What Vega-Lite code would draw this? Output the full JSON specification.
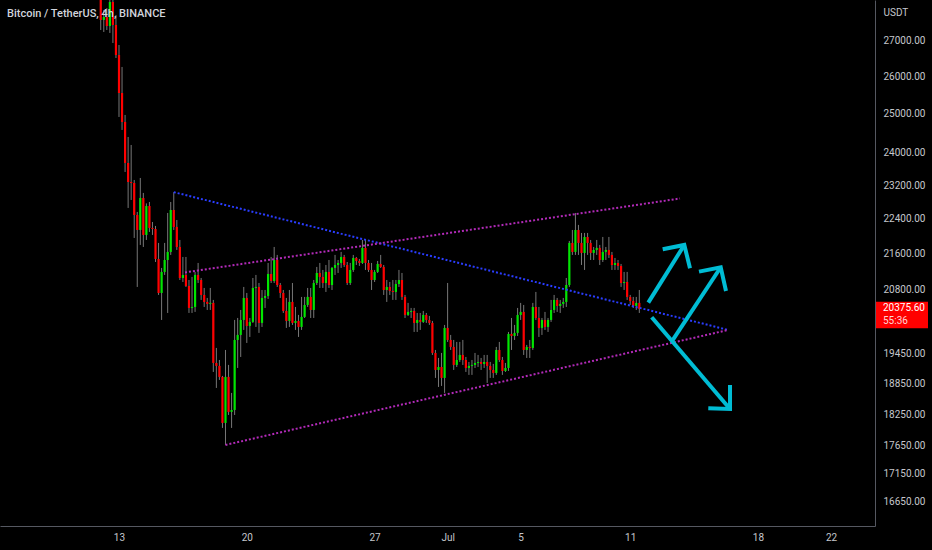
{
  "$schema": "https://vega.github.io/schema/vega-lite/v6.json",
  "width": 875,
  "height": 526,
  "autosize": "none",
  "padding": {"left": 0, "top": 0, "right": 57, "bottom": 24},
  "background": "#000000",
  "title": {"text": "Bitcoin / TetherUS, 4h, BINANCE", "anchor": "start", "frame": "group", "offset": -19, "dx": 7, "font": "Roboto", "fontSize": 11, "fontWeight": 500, "color": "#d1d4dc"},
  "config": {"view": {"stroke": null, "fill": "#000000"}},
  "datasets": {
    "candles": [
      {"t":"2022-06-12T00:00","o":28409,"h":28618,"l":27299,"c":27587},
      {"t":"2022-06-12T04:00","o":27587,"h":27877,"l":27242,"c":27674},
      {"t":"2022-06-12T08:00","o":27674,"h":27936,"l":27299,"c":27414},
      {"t":"2022-06-12T12:00","o":27414,"h":28260,"l":27214,"c":28112},
      {"t":"2022-06-12T16:00","o":28112,"h":28320,"l":26929,"c":27443},
      {"t":"2022-06-12T20:00","o":27443,"h":27732,"l":26509,"c":26593},
      {"t":"2022-06-13T00:00","o":26593,"h":26873,"l":24919,"c":25554},
      {"t":"2022-06-13T04:00","o":25554,"h":26261,"l":24582,"c":24789},
      {"t":"2022-06-13T08:00","o":24789,"h":24972,"l":23523,"c":23746},
      {"t":"2022-06-13T12:00","o":23746,"h":24402,"l":22652,"c":23277},
      {"t":"2022-06-13T16:00","o":23277,"h":24198,"l":22842,"c":23253},
      {"t":"2022-06-13T20:00","o":23253,"h":23326,"l":21950,"c":22486},
      {"t":"2022-06-14T00:00","o":22486,"h":22557,"l":20851,"c":22135},
      {"t":"2022-06-14T04:00","o":22135,"h":23375,"l":21790,"c":22890},
      {"t":"2022-06-14T08:00","o":22890,"h":23011,"l":21744,"c":22020},
      {"t":"2022-06-14T12:00","o":22020,"h":22760,"l":21904,"c":22699},
      {"t":"2022-06-14T16:00","o":22699,"h":22794,"l":22089,"c":22182},
      {"t":"2022-06-14T20:00","o":22182,"h":22321,"l":22020,"c":22158},
      {"t":"2022-06-15T00:00","o":22158,"h":22228,"l":21404,"c":21472},
      {"t":"2022-06-15T04:00","o":21472,"h":21836,"l":20677,"c":20720},
      {"t":"2022-06-15T08:00","o":20720,"h":21271,"l":20142,"c":21182},
      {"t":"2022-06-15T12:00","o":21182,"h":21836,"l":21115,"c":21449},
      {"t":"2022-06-15T16:00","o":21449,"h":22533,"l":20290,"c":21631},
      {"t":"2022-06-15T20:00","o":21631,"h":22794,"l":21563,"c":22604},
      {"t":"2022-06-16T00:00","o":22604,"h":23030,"l":22135,"c":22205},
      {"t":"2022-06-16T04:00","o":22205,"h":22368,"l":21676,"c":21744},
      {"t":"2022-06-16T08:00","o":21744,"h":21904,"l":21004,"c":21048},
      {"t":"2022-06-16T12:00","o":21048,"h":21517,"l":20960,"c":21115},
      {"t":"2022-06-16T16:00","o":21115,"h":21517,"l":20851,"c":20873},
      {"t":"2022-06-16T20:00","o":20873,"h":21004,"l":20290,"c":20397},
      {"t":"2022-06-17T00:00","o":20397,"h":21071,"l":20290,"c":20418},
      {"t":"2022-06-17T04:00","o":20418,"h":21182,"l":20312,"c":21115},
      {"t":"2022-06-17T08:00","o":21115,"h":21382,"l":20938,"c":21004},
      {"t":"2022-06-17T12:00","o":21004,"h":21048,"l":20569,"c":20677},
      {"t":"2022-06-17T16:00","o":20677,"h":20829,"l":20418,"c":20526},
      {"t":"2022-06-17T20:00","o":20526,"h":20612,"l":20354,"c":20483},
      {"t":"2022-06-18T00:00","o":20483,"h":20829,"l":20354,"c":20505},
      {"t":"2022-06-18T04:00","o":20505,"h":20569,"l":19073,"c":19254},
      {"t":"2022-06-18T08:00","o":19254,"h":19559,"l":18756,"c":19194},
      {"t":"2022-06-18T12:00","o":19194,"h":19314,"l":18914,"c":18974},
      {"t":"2022-06-18T16:00","o":18974,"h":18994,"l":17986,"c":18080},
      {"t":"2022-06-18T20:00","o":18080,"h":19518,"l":17668,"c":18974},
      {"t":"2022-06-19T00:00","o":18974,"h":19214,"l":18232,"c":18290},
      {"t":"2022-06-19T04:00","o":18290,"h":18658,"l":17986,"c":18328},
      {"t":"2022-06-19T08:00","o":18328,"h":20142,"l":18232,"c":19724},
      {"t":"2022-06-19T12:00","o":19724,"h":20184,"l":19153,"c":19828},
      {"t":"2022-06-19T16:00","o":19828,"h":20354,"l":19375,"c":20142},
      {"t":"2022-06-19T20:00","o":20142,"h":20851,"l":19932,"c":20612},
      {"t":"2022-06-20T00:00","o":20612,"h":20720,"l":19662,"c":20016},
      {"t":"2022-06-20T04:00","o":20016,"h":20184,"l":19786,"c":20100},
      {"t":"2022-06-20T08:00","o":20100,"h":21048,"l":20079,"c":20829},
      {"t":"2022-06-20T12:00","o":20829,"h":21115,"l":19995,"c":20851},
      {"t":"2022-06-20T16:00","o":20851,"h":20938,"l":19870,"c":20079},
      {"t":"2022-06-20T20:00","o":20079,"h":20785,"l":19995,"c":20612},
      {"t":"2022-06-21T00:00","o":20612,"h":20785,"l":20397,"c":20655},
      {"t":"2022-06-21T04:00","o":20655,"h":21382,"l":20590,"c":21137},
      {"t":"2022-06-21T08:00","o":21137,"h":21517,"l":20938,"c":20982},
      {"t":"2022-06-21T12:00","o":20982,"h":21744,"l":20938,"c":21449},
      {"t":"2022-06-21T16:00","o":21449,"h":21563,"l":20851,"c":20894},
      {"t":"2022-06-21T20:00","o":20894,"h":20938,"l":20612,"c":20720},
      {"t":"2022-06-22T00:00","o":20720,"h":20785,"l":20290,"c":20333},
      {"t":"2022-06-22T04:00","o":20333,"h":20612,"l":19974,"c":20121},
      {"t":"2022-06-22T08:00","o":20121,"h":20785,"l":19995,"c":20526},
      {"t":"2022-06-22T12:00","o":20526,"h":20938,"l":20037,"c":20079},
      {"t":"2022-06-22T16:00","o":20079,"h":20418,"l":19932,"c":20121},
      {"t":"2022-06-22T20:00","o":20121,"h":20248,"l":19786,"c":19995},
      {"t":"2022-06-23T00:00","o":19995,"h":20634,"l":19932,"c":20206},
      {"t":"2022-06-23T04:00","o":20206,"h":20634,"l":20184,"c":20461},
      {"t":"2022-06-23T08:00","o":20461,"h":20829,"l":20418,"c":20634},
      {"t":"2022-06-23T12:00","o":20634,"h":20829,"l":20184,"c":20354},
      {"t":"2022-06-23T16:00","o":20354,"h":21004,"l":20184,"c":20938},
      {"t":"2022-06-23T20:00","o":20938,"h":21293,"l":20894,"c":21159},
      {"t":"2022-06-24T00:00","o":21159,"h":21382,"l":20829,"c":21071},
      {"t":"2022-06-24T04:00","o":21071,"h":21226,"l":20829,"c":20938},
      {"t":"2022-06-24T08:00","o":20938,"h":21337,"l":20742,"c":21182},
      {"t":"2022-06-24T12:00","o":21182,"h":21449,"l":20829,"c":20894},
      {"t":"2022-06-24T16:00","o":20894,"h":21293,"l":20785,"c":21271},
      {"t":"2022-06-24T20:00","o":21271,"h":21563,"l":21115,"c":21337},
      {"t":"2022-06-25T00:00","o":21337,"h":21449,"l":21159,"c":21382},
      {"t":"2022-06-25T04:00","o":21382,"h":21631,"l":21271,"c":21517},
      {"t":"2022-06-25T08:00","o":21517,"h":21563,"l":21293,"c":21337},
      {"t":"2022-06-25T12:00","o":21337,"h":21404,"l":20894,"c":20938},
      {"t":"2022-06-25T16:00","o":20938,"h":21382,"l":20894,"c":21226},
      {"t":"2022-06-25T20:00","o":21226,"h":21563,"l":21182,"c":21495},
      {"t":"2022-06-26T00:00","o":21495,"h":21517,"l":21337,"c":21427},
      {"t":"2022-06-26T04:00","o":21427,"h":21472,"l":21315,"c":21382},
      {"t":"2022-06-26T08:00","o":21382,"h":21904,"l":21360,"c":21722},
      {"t":"2022-06-26T12:00","o":21722,"h":21904,"l":21226,"c":21382},
      {"t":"2022-06-26T16:00","o":21382,"h":21449,"l":21182,"c":21226},
      {"t":"2022-06-26T20:00","o":21226,"h":21382,"l":20785,"c":21004},
      {"t":"2022-06-27T00:00","o":21004,"h":21226,"l":20960,"c":21182},
      {"t":"2022-06-27T04:00","o":21182,"h":21427,"l":21159,"c":21360},
      {"t":"2022-06-27T08:00","o":21360,"h":21563,"l":21271,"c":21293},
      {"t":"2022-06-27T12:00","o":21293,"h":21337,"l":20677,"c":20785},
      {"t":"2022-06-27T16:00","o":20785,"h":21004,"l":20526,"c":20851},
      {"t":"2022-06-27T20:00","o":20851,"h":20960,"l":20677,"c":20764},
      {"t":"2022-06-28T00:00","o":20764,"h":21004,"l":20569,"c":20742},
      {"t":"2022-06-28T04:00","o":20742,"h":21004,"l":20569,"c":20916},
      {"t":"2022-06-28T08:00","o":20916,"h":21226,"l":20851,"c":21004},
      {"t":"2022-06-28T12:00","o":21004,"h":21159,"l":20569,"c":20634},
      {"t":"2022-06-28T16:00","o":20634,"h":20677,"l":20184,"c":20248},
      {"t":"2022-06-28T20:00","o":20248,"h":20505,"l":20227,"c":20312},
      {"t":"2022-06-29T00:00","o":20312,"h":20397,"l":20184,"c":20333},
      {"t":"2022-06-29T04:00","o":20333,"h":20397,"l":19890,"c":20079},
      {"t":"2022-06-29T08:00","o":20079,"h":20290,"l":19890,"c":20142},
      {"t":"2022-06-29T12:00","o":20142,"h":20290,"l":19932,"c":20100},
      {"t":"2022-06-29T16:00","o":20100,"h":20333,"l":20079,"c":20248},
      {"t":"2022-06-29T20:00","o":20248,"h":20290,"l":20079,"c":20142},
      {"t":"2022-06-30T00:00","o":20142,"h":20227,"l":20037,"c":20079},
      {"t":"2022-06-30T04:00","o":20079,"h":20121,"l":19416,"c":19457},
      {"t":"2022-06-30T08:00","o":19457,"h":19518,"l":18954,"c":19113},
      {"t":"2022-06-30T12:00","o":19113,"h":19355,"l":18775,"c":19173},
      {"t":"2022-06-30T16:00","o":19173,"h":19457,"l":18795,"c":18954},
      {"t":"2022-06-30T20:00","o":18954,"h":20037,"l":18658,"c":19974},
      {"t":"2022-07-01T00:00","o":19974,"h":20938,"l":19683,"c":19724},
      {"t":"2022-07-01T04:00","o":19724,"h":19828,"l":19518,"c":19580},
      {"t":"2022-07-01T08:00","o":19580,"h":19724,"l":19113,"c":19214},
      {"t":"2022-07-01T12:00","o":19214,"h":19683,"l":19173,"c":19314},
      {"t":"2022-07-01T16:00","o":19314,"h":19683,"l":19274,"c":19416},
      {"t":"2022-07-01T20:00","o":19416,"h":19724,"l":19214,"c":19314},
      {"t":"2022-07-02T00:00","o":19314,"h":19375,"l":19073,"c":19153},
      {"t":"2022-07-02T04:00","o":19153,"h":19274,"l":19014,"c":19194},
      {"t":"2022-07-02T08:00","o":19194,"h":19314,"l":19014,"c":19214},
      {"t":"2022-07-02T12:00","o":19214,"h":19457,"l":19153,"c":19254},
      {"t":"2022-07-02T16:00","o":19254,"h":19416,"l":19173,"c":19274},
      {"t":"2022-07-02T20:00","o":19274,"h":19355,"l":19113,"c":19234},
      {"t":"2022-07-03T00:00","o":19234,"h":19416,"l":19153,"c":19274},
      {"t":"2022-07-03T04:00","o":19274,"h":19416,"l":18855,"c":19194},
      {"t":"2022-07-03T08:00","o":19194,"h":19274,"l":18954,"c":19113},
      {"t":"2022-07-03T12:00","o":19113,"h":19234,"l":18954,"c":19053},
      {"t":"2022-07-03T16:00","o":19053,"h":19580,"l":19014,"c":19518},
      {"t":"2022-07-03T20:00","o":19518,"h":19683,"l":19274,"c":19314},
      {"t":"2022-07-04T00:00","o":19314,"h":19375,"l":19014,"c":19093},
      {"t":"2022-07-04T04:00","o":19093,"h":19254,"l":19073,"c":19153},
      {"t":"2022-07-04T08:00","o":19153,"h":19890,"l":19093,"c":19849},
      {"t":"2022-07-04T12:00","o":19849,"h":20184,"l":19518,"c":19807},
      {"t":"2022-07-04T16:00","o":19807,"h":20037,"l":19724,"c":19870},
      {"t":"2022-07-04T20:00","o":19870,"h":20397,"l":19807,"c":20248},
      {"t":"2022-07-05T00:00","o":20248,"h":20505,"l":20142,"c":20312},
      {"t":"2022-07-05T04:00","o":20312,"h":20461,"l":19416,"c":19518},
      {"t":"2022-07-05T08:00","o":19518,"h":19621,"l":19355,"c":19580},
      {"t":"2022-07-05T12:00","o":19580,"h":19724,"l":19355,"c":19559},
      {"t":"2022-07-05T16:00","o":19559,"h":20505,"l":19518,"c":20418},
      {"t":"2022-07-05T20:00","o":20418,"h":20742,"l":20142,"c":20184},
      {"t":"2022-07-06T00:00","o":20184,"h":20418,"l":19786,"c":19974},
      {"t":"2022-07-06T04:00","o":19974,"h":20184,"l":19828,"c":20142},
      {"t":"2022-07-06T08:00","o":20142,"h":20312,"l":19932,"c":19995},
      {"t":"2022-07-06T12:00","o":19995,"h":20184,"l":19890,"c":20142},
      {"t":"2022-07-06T16:00","o":20142,"h":20569,"l":20100,"c":20354},
      {"t":"2022-07-06T20:00","o":20354,"h":20677,"l":20290,"c":20569},
      {"t":"2022-07-07T00:00","o":20569,"h":20612,"l":20312,"c":20440},
      {"t":"2022-07-07T04:00","o":20440,"h":20569,"l":20290,"c":20483},
      {"t":"2022-07-07T08:00","o":20483,"h":20612,"l":20397,"c":20526},
      {"t":"2022-07-07T12:00","o":20526,"h":21048,"l":20418,"c":20894},
      {"t":"2022-07-07T16:00","o":20894,"h":21881,"l":20851,"c":21836},
      {"t":"2022-07-07T20:00","o":21836,"h":22135,"l":21563,"c":21631},
      {"t":"2022-07-08T00:00","o":21631,"h":22533,"l":21563,"c":22135},
      {"t":"2022-07-08T04:00","o":22135,"h":22252,"l":21563,"c":21836},
      {"t":"2022-07-08T08:00","o":21836,"h":22066,"l":21337,"c":21608},
      {"t":"2022-07-08T12:00","o":21608,"h":22066,"l":21226,"c":21973},
      {"t":"2022-07-08T16:00","o":21973,"h":22066,"l":21563,"c":21836},
      {"t":"2022-07-08T20:00","o":21836,"h":21904,"l":21449,"c":21608},
      {"t":"2022-07-09T00:00","o":21608,"h":21744,"l":21449,"c":21676},
      {"t":"2022-07-09T04:00","o":21676,"h":21904,"l":21563,"c":21722},
      {"t":"2022-07-09T08:00","o":21722,"h":21790,"l":21337,"c":21449},
      {"t":"2022-07-09T12:00","o":21449,"h":21973,"l":21404,"c":21631},
      {"t":"2022-07-09T16:00","o":21631,"h":21744,"l":21449,"c":21676},
      {"t":"2022-07-09T20:00","o":21676,"h":21973,"l":21495,"c":21563},
      {"t":"2022-07-10T00:00","o":21563,"h":21631,"l":21226,"c":21337},
      {"t":"2022-07-10T04:00","o":21337,"h":21495,"l":21226,"c":21382},
      {"t":"2022-07-10T08:00","o":21382,"h":21449,"l":21226,"c":21315},
      {"t":"2022-07-10T12:00","o":21315,"h":21360,"l":20851,"c":20938},
      {"t":"2022-07-10T16:00","o":20938,"h":21182,"l":20785,"c":20960},
      {"t":"2022-07-10T20:00","o":20960,"h":21182,"l":20569,"c":20634},
      {"t":"2022-07-11T00:00","o":20634,"h":20677,"l":20461,"c":20547},
      {"t":"2022-07-11T04:00","o":20547,"h":20634,"l":20397,"c":20440},
      {"t":"2022-07-11T08:00","o":20440,"h":20634,"l":20354,"c":20505},
      {"t":"2022-07-11T12:00","o":20505,"h":20785,"l":20290,"c":20375.6}
    ],
    "lines": [
      {"g":"blue","k":0,"t":"2022-06-16T00:00","p":23030},
      {"g":"blue","k":1,"t":"2022-07-16T08:58","p":19932},
      {"g":"upper","k":0,"t":"2022-06-16T14:46","p":21171},
      {"g":"upper","k":1,"t":"2022-07-13T17:28","p":22878},
      {"g":"lower","k":0,"t":"2022-06-18T20:00","p":17668},
      {"g":"lower","k":1,"t":"2022-07-16T08:58","p":19932}
    ],
    "arrows": [
      {"g":"a1s","k":0,"t":"2022-07-11T23:48","p":20511},
      {"g":"a1s","k":1,"t":"2022-07-13T23:08","p":21790},
      {"g":"a1h","k":0,"t":"2022-07-12T18:43","p":21692},
      {"g":"a1h","k":1,"t":"2022-07-13T23:08","p":21790},
      {"g":"a1h","k":2,"t":"2022-07-14T06:38","p":21264},
      {"g":"a2s","k":0,"t":"2022-07-13T06:33","p":19689},
      {"g":"a2s","k":1,"t":"2022-07-15T23:00","p":21286},
      {"g":"a2h","k":0,"t":"2022-07-14T18:27","p":21188},
      {"g":"a2h","k":1,"t":"2022-07-15T23:00","p":21286},
      {"g":"a2h","k":2,"t":"2022-07-16T05:57","p":20763},
      {"g":"a3s","k":0,"t":"2022-07-12T04:16","p":20199},
      {"g":"a3s","k":1,"t":"2022-07-16T11:13","p":18347},
      {"g":"a3h","k":0,"t":"2022-07-15T06:40","p":18361},
      {"g":"a3h","k":1,"t":"2022-07-16T11:13","p":18347},
      {"g":"a3h","k":2,"t":"2022-07-16T11:13","p":18815}
    ],
    "tag": [
      {"price":20375.6,"hi":20532,"lo":19968,"label":"20375.60","countdown":"55:36"}
    ]
  },
  "layer": [
    {
      "data": {"name": "candles"},
      "mark": {"type": "rule", "color": "#777777", "strokeWidth": 1, "clip": true},
      "encoding": {
        "x": {"field": "t", "type": "temporal",
          "scale": {"domain": ["2022-06-06T11:34:00", "2022-07-24T09:49:00"], "nice": false},
          "axis": {"orient": "bottom", "grid": false, "ticks": false, "domainColor": "#555861", "labelColor": "#c5c7cc", "labelFont": "Roboto", "labelFontSize": 10, "labelPadding": 6, "labelOverlap": false, "title": null,
            "values": [{"year":2022,"month":6,"date":13},{"year":2022,"month":6,"date":20},{"year":2022,"month":6,"date":27},{"year":2022,"month":7,"date":1},{"year":2022,"month":7,"date":5},{"year":2022,"month":7,"date":11},{"year":2022,"month":7,"date":18},{"year":2022,"month":7,"date":22}],
            "labelExpr": "date(datum.value) == 1 ? timeFormat(datum.value, '%b') : timeFormat(datum.value, '%-d')"}},
        "y": {"field": "l", "type": "quantitative",
          "scale": {"type": "log", "domain": [16228, 28171], "nice": false, "zero": false},
          "axis": {"orient": "right", "grid": false, "ticks": false, "domainColor": "#555861", "labelColor": "#c5c7cc", "labelFont": "Roboto", "labelFontSize": 10, "labelPadding": 8, "labelAlign": "left", "labelOverlap": false, "format": ".2f",
            "values": [16650, 17150, 17650, 18250, 18850, 19450, 20800, 21600, 22400, 23200, 24000, 25000, 26000, 27000],
            "title": "USDT", "titleAngle": 0, "titleX": 8, "titleY": 12, "titleAlign": "left", "titleBaseline": "middle", "titleFont": "Roboto", "titleFontSize": 10, "titleFontWeight": "normal", "titleColor": "#c5c7cc"}},
        "y2": {"field": "h"}
      }
    },
    {
      "data": {"name": "candles"},
      "mark": {"type": "rule", "strokeWidth": 2.2, "clip": true},
      "encoding": {
        "x": {"field": "t", "type": "temporal", "scale": {"domain": ["2022-06-06T11:34:00", "2022-07-24T09:49:00"], "nice": false}},
        "y": {"field": "o", "type": "quantitative", "scale": {"type": "log", "domain": [16228, 28171], "nice": false, "zero": false}},
        "y2": {"field": "c"},
        "color": {"condition": {"test": "datum.c >= datum.o", "value": "#00e600"}, "value": "#ff0000"}
      }
    },
    {
      "data": {"name": "lines"},
      "mark": {"type": "line", "strokeWidth": 2, "strokeDash": [2, 2], "clip": true},
      "encoding": {
        "x": {"field": "t", "type": "temporal", "scale": {"domain": ["2022-06-06T11:34:00", "2022-07-24T09:49:00"], "nice": false}},
        "y": {"field": "p", "type": "quantitative", "scale": {"type": "log", "domain": [16228, 28171], "nice": false, "zero": false}},
        "order": {"field": "k"},
        "color": {"field": "g", "type": "nominal", "scale": {"domain": ["blue", "upper", "lower"], "range": ["#2a3dff", "#b22ab8", "#b22ab8"]}, "legend": null}
      }
    },
    {
      "data": {"name": "arrows"},
      "mark": {"type": "line", "strokeWidth": 4, "color": "#00bcd4", "strokeCap": "butt", "strokeJoin": "miter", "clip": true},
      "encoding": {
        "x": {"field": "t", "type": "temporal", "scale": {"domain": ["2022-06-06T11:34:00", "2022-07-24T09:49:00"], "nice": false}},
        "y": {"field": "p", "type": "quantitative", "scale": {"type": "log", "domain": [16228, 28171], "nice": false, "zero": false}},
        "order": {"field": "k"},
        "detail": {"field": "g"}
      }
    },
    {
      "data": {"name": "tag"},
      "mark": {"type": "rect", "color": "#ff0000", "x": {"expr": "width + 1"}, "x2": {"expr": "width + 53"}},
      "encoding": {
        "y": {"field": "hi", "type": "quantitative", "scale": {"type": "log", "domain": [16228, 28171], "nice": false, "zero": false}},
        "y2": {"field": "lo"}
      }
    },
    {
      "data": {"name": "tag"},
      "mark": {"type": "text", "color": "#ffffff", "font": "Roboto", "fontSize": 10, "align": "left", "baseline": "middle", "dy": -1, "x": {"expr": "width + 8"}},
      "encoding": {
        "y": {"field": "price", "type": "quantitative", "scale": {"type": "log", "domain": [16228, 28171], "nice": false, "zero": false}},
        "text": {"field": "label"}
      }
    },
    {
      "data": {"name": "tag"},
      "mark": {"type": "text", "color": "#ffd5d5", "font": "Roboto", "fontSize": 10, "align": "left", "baseline": "middle", "dy": 12, "x": {"expr": "width + 8"}},
      "encoding": {
        "y": {"field": "price", "type": "quantitative", "scale": {"type": "log", "domain": [16228, 28171], "nice": false, "zero": false}},
        "text": {"field": "countdown"}
      }
    }
  ]
}
